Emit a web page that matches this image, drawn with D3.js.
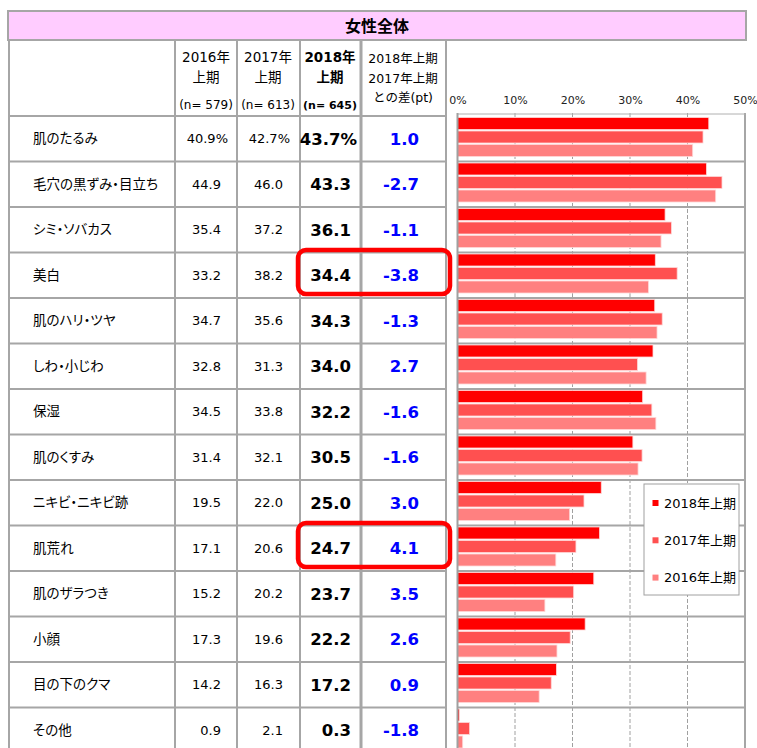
<!DOCTYPE html>
<html>
<head>
<meta charset="utf-8">
<script src="https://cdn.jsdelivr.net/npm/d3@7"></script>
<style>
  body { margin: 0; background: #fff; }
  text { font-family: "DejaVu Sans", "Noto Sans CJK JP", sans-serif; }
  .jp { font-family: "Noto Sans CJK JP", sans-serif; }
  .label { font-feature-settings: "palt"; }
</style>
</head>
<body>
<script>
// chart data
const title = "女性全体";
const labels = ["肌のたるみ", "毛穴の黒ずみ・目立ち", "シミ・ソバカス", "美白", "肌のハリ・ツヤ",
  "しわ・小じわ", "保湿", "肌のくすみ", "ニキビ・ニキビ跡", "肌荒れ", "肌のザラつき",
  "小顔", "目の下のクマ", "その他"];
const v2016 = [40.9, 44.9, 35.4, 33.2, 34.7, 32.8, 34.5, 31.4, 19.5, 17.1, 15.2, 17.3, 14.2, 0.9];
const v2017 = [42.7, 46.0, 37.2, 38.2, 35.6, 31.3, 33.8, 32.1, 22.0, 20.6, 20.2, 19.6, 16.3, 2.1];
const v2018 = [43.7, 43.3, 36.1, 34.4, 34.3, 34.0, 32.2, 30.5, 25.0, 24.7, 23.7, 22.2, 17.2, 0.3];
const diffs = [1.0, -2.7, -1.1, -3.8, -1.3, 2.7, -1.6, -1.6, 3.0, 4.1, 3.5, 2.6, 0.9, -1.8];
const seriesNames = ["2018年上期", "2017年上期", "2016年上期"];
const sampleSizes = ["579", "613", "645"];
const highlighted = ["美白", "肌荒れ"];
const axisTicks = [0, 10, 20, 30, 40, 50];

const width = 757, height = 748;
const gridColor = "#a6a6a6";
const colors = d3.scaleOrdinal().domain(seriesNames).range(["#ff0000", "#ff5050", "#ff8080"]);

// table column edges
const colX = { left: 9, c2016: 175, c2017: 237, c2018: 300, diff: 361, chart: 446, right: 746 };

let svg = d3.select("body").append("svg")
    .attr("width", width)
    .attr("height", height);

let rowY = d3.scaleBand().domain(labels).range([116, 116 + 45.5 * labels.length]);
let xScale = d3.scaleLinear().domain([0, 50]).range([457.5, 745]);
let barY = d3.scaleBand().domain(seriesNames).range([1.5, 40.5]).paddingInner(1 / 9);

let rows = labels.map((d, i) => ({
  label: d, i: i,
  vals: [v2018[i], v2017[i], v2016[i]],
  v2016: v2016[i], v2017: v2017[i], v2018: v2018[i], diff: diffs[i]
}));

// ---- title row
svg.append("rect")
    .attr("x", 8).attr("y", 11)
    .attr("width", colX.right - 8).attr("height", 29)
    .attr("fill", "#ffccff")
    .attr("stroke", gridColor).attr("stroke-width", 2);

svg.append("text")
    .attr("class", "jp")
    .attr("x", (8 + colX.right) / 2).attr("y", 26)
    .attr("dy", "0.35em")
    .attr("text-anchor", "middle")
    .style("font-size", "16px").style("font-weight", "bold")
    .text(title);

// ---- table grid
let grid = svg.append("g").attr("stroke", gridColor).attr("stroke-width", 2);

[colX.left, colX.c2016, colX.c2017, colX.c2018, colX.chart].forEach(x => {
  grid.append("line").attr("x1", x).attr("x2", x).attr("y1", 40).attr("y2", height);
});
grid.append("line").attr("x1", colX.diff).attr("x2", colX.diff)
    .attr("y1", 40).attr("y2", height).attr("stroke-width", 3);

grid.selectAll(".rowline")
    .data(labels)
    .enter().append("line")
    .attr("class", "rowline")
    .attr("x1", colX.left).attr("x2", colX.chart)
    .attr("y1", d => rowY(d)).attr("y2", d => rowY(d));

// ---- header texts
let header = svg.append("g").style("font-size", "13.5px");
let yearCols = [
  { cx: 206, year: "2016年", n: sampleSizes[0], bold: false },
  { cx: 268, year: "2017年", n: sampleSizes[1], bold: false },
  { cx: 330, year: "2018年", n: sampleSizes[2], bold: true }
];
yearCols.forEach(c => {
  let w = c.bold ? "bold" : "normal";
  header.append("text").attr("x", c.cx).attr("y", 57).attr("dy", "0.35em")
      .attr("text-anchor", "middle").style("font-weight", w).text(c.year);
  header.append("text").attr("x", c.cx).attr("y", 77).attr("dy", "0.35em")
      .attr("text-anchor", "middle").style("font-weight", w).text("上期");
  header.append("text").attr("x", c.cx).attr("y", 105).attr("dy", "0.35em")
      .attr("text-anchor", "middle").style("font-weight", w)
      .style("font-size", c.bold ? "11px" : "12px")
      .text(`(n= ${c.n})`);
});
["2018年上期", "2017年上期", "との差(pt)"].forEach((t, k) => {
  header.append("text").attr("x", 403).attr("y", 59 + k * 19.5).attr("dy", "0.35em")
      .attr("text-anchor", "middle").style("font-size", "12.5px").text(t);
});

// ---- table body
let body = svg.append("g");
let rowG = body.selectAll(".row")
    .data(rows)
    .enter().append("g")
    .attr("class", "row")
    .attr("transform", d => `translate(0, ${rowY(d.label) + rowY.bandwidth() / 2})`);

rowG.append("text")
    .attr("class", "jp label")
    .attr("x", 33).attr("dy", "0.35em")
    .style("font-size", "13.5px")
    .text(d => d.label);

rowG.append("text")
    .attr("x", d => colX.c2017 - (d.i === 0 ? 9 : 16)).attr("dy", "0.35em")
    .attr("text-anchor", "end").style("font-size", "13px")
    .text(d => d.v2016.toFixed(1) + (d.i === 0 ? "%" : ""));

rowG.append("text")
    .attr("x", d => colX.c2018 - (d.i === 0 ? 10 : 17)).attr("dy", "0.35em")
    .attr("text-anchor", "end").style("font-size", "13px")
    .text(d => d.v2017.toFixed(1) + (d.i === 0 ? "%" : ""));

rowG.append("text")
    .attr("x", d => colX.diff - (d.i === 0 ? 4 : 10)).attr("dy", "0.35em")
    .attr("text-anchor", "end").style("font-size", "16.5px").style("font-weight", "bold")
    .text(d => d.v2018.toFixed(1) + (d.i === 0 ? "%" : ""));

rowG.append("text")
    .attr("x", colX.chart - 27).attr("dy", "0.35em")
    .attr("text-anchor", "end").style("font-size", "16.5px").style("font-weight", "bold")
    .attr("fill", "#0000ff")
    .text(d => d.diff.toFixed(1));

// ---- bar chart
let chart = svg.append("g");

chart.selectAll(".vgrid")
    .data(axisTicks.slice(1))
    .enter().append("line")
    .attr("class", "vgrid")
    .attr("x1", d => xScale(d)).attr("x2", d => xScale(d))
    .attr("y1", 113).attr("y2", height)
    .attr("stroke", d => d === 50 ? gridColor : "#a0a0a0")
    .attr("stroke-width", d => d === 50 ? 2 : 1)
    .attr("stroke-dasharray", d => d === 50 ? null : "4,2");

chart.selectAll(".hgrid")
    .data(labels.slice(1))
    .enter().append("line")
    .attr("class", "hgrid")
    .attr("x1", xScale(0)).attr("x2", colX.right)
    .attr("y1", d => rowY(d)).attr("y2", d => rowY(d))
    .attr("stroke", gridColor).attr("stroke-width", 2);

let axis = chart.append("g")
    .attr("transform", "translate(0, 113.5)")
    .call(d3.axisTop(xScale).tickValues(axisTicks).tickFormat(d => d + "%")
      .tickSize(0).tickPadding(10));
axis.select(".domain").attr("stroke", "#b0b0b0");
axis.selectAll("text").style("font-size", "11px").attr("fill", "#222")
    .style("font-family", "'DejaVu Sans', sans-serif");

let barGroups = chart.selectAll(".bars")
    .data(rows)
    .enter().append("g")
    .attr("class", "bars")
    .attr("transform", d => `translate(0, ${rowY(d.label)})`);

barGroups.selectAll("rect")
    .data(d => seriesNames.map((s, k) => ({ series: s, value: d.vals[k] })))
    .enter().append("rect")
    .attr("x", xScale(0))
    .attr("y", d => barY(d.series))
    .attr("width", d => xScale(d.value) - xScale(0))
    .attr("height", barY.bandwidth())
    .attr("fill", d => colors(d.series))
    .attr("stroke", "#ffd6d6").attr("stroke-width", 0.8);

// y axis line of the chart
chart.append("line")
    .attr("x1", xScale(0)).attr("x2", xScale(0))
    .attr("y1", 113).attr("y2", height)
    .attr("stroke", "#a0a0a0").attr("stroke-width", 2);

// ---- legend
let legend = svg.append("g").attr("transform", "translate(644, 484)");
legend.append("rect")
    .attr("width", 95).attr("height", 111)
    .attr("fill", "#fff").attr("stroke", "#a0a0a0").attr("stroke-width", 1);
let items = legend.selectAll(".item")
    .data(seriesNames)
    .enter().append("g")
    .attr("class", "item")
    .attr("transform", (d, i) => `translate(0, ${19 + i * 37.3})`);
items.append("rect")
    .attr("x", 8.5).attr("y", -3).attr("width", 6).attr("height", 6)
    .attr("fill", d => colors(d));
items.append("text")
    .attr("x", 20).attr("dy", "0.35em")
    .style("font-size", "13px")
    .text(d => d);

// ---- highlight boxes
svg.selectAll(".hl")
    .data(highlighted)
    .enter().append("rect")
    .attr("class", "hl")
    .attr("x", 298).attr("y", d => rowY(d) - 2.5)
    .attr("width", 152).attr("height", 44)
    .attr("rx", 8).attr("ry", 8)
    .attr("fill", "none")
    .attr("stroke", "#ff0000").attr("stroke-width", 4.5);
</script>
</body>
</html>
